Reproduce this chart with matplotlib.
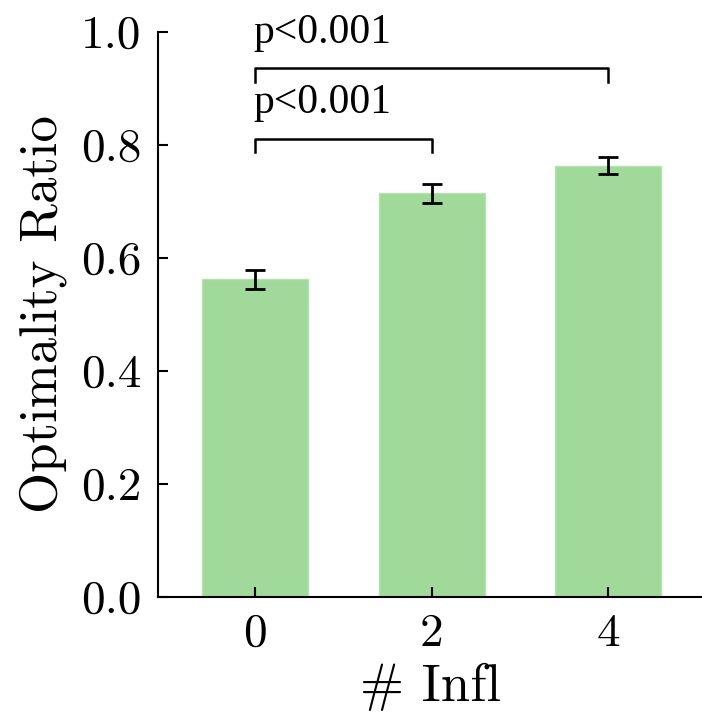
import matplotlib
matplotlib.use("Agg")
import matplotlib.pyplot as plt
import numpy as np

# data
infl_labels = ["0", "2", "4"]
ratio_mean = [0.562, 0.714, 0.763]
ratio_err = [0.017, 0.017, 0.015]
y_ticks = [0.0, 0.2, 0.4, 0.6, 0.8, 1.0]
# significance brackets: (left bar, right bar, line height, label)
brackets = [(0, 1, 0.811, "p<0.001"), (0, 2, 0.936, "p<0.001")]

bar_color = "#a1d99b"
cm_font = "cmr10"
p_font = "Liberation Serif"

fig = plt.figure(figsize=(7.02, 7.25), dpi=100)
ax = fig.add_axes([0.225, 0.177, 0.775, 0.779])

x = np.arange(len(infl_labels))
ax.bar(x, ratio_mean, width=0.6, color=bar_color, edgecolor="#b5e3ae", linewidth=1)
ax.errorbar(x, ratio_mean, yerr=ratio_err, fmt="none", ecolor="black",
            elinewidth=2, capsize=7, capthick=2)

for left, right, h, label in brackets:
    drop = 0.024
    ax.plot([left, left, right, right], [h - drop, h, h, h - drop],
            color="black", lw=1.8, clip_on=False)
    ax.text(left - 0.01, h + 0.045, label, fontsize=30, family=p_font,
            ha="left", va="baseline", clip_on=False)

ax.set_xlim(-0.55, 2.53)
ax.set_ylim(0, 1.0)
ax.set_xticks(x)
ax.set_xticklabels(infl_labels, family=cm_font, fontsize=34)
ax.set_yticks(y_ticks)
ax.set_yticklabels(["%.1f" % v for v in y_ticks], family=cm_font, fontsize=34)
ax.tick_params(direction="in", length=7, width=1.5, top=False, right=False, pad=12)

ax.set_ylabel("Optimality Ratio", family=cm_font, fontsize=38, labelpad=10)
ax.set_xlabel("# Infl", family=cm_font, fontsize=38, labelpad=6)

ax.spines["top"].set_visible(False)
ax.spines["right"].set_visible(False)
ax.spines["left"].set_linewidth(1.5)
ax.spines["bottom"].set_linewidth(1.5)

fig.savefig("out.png", dpi=100)
